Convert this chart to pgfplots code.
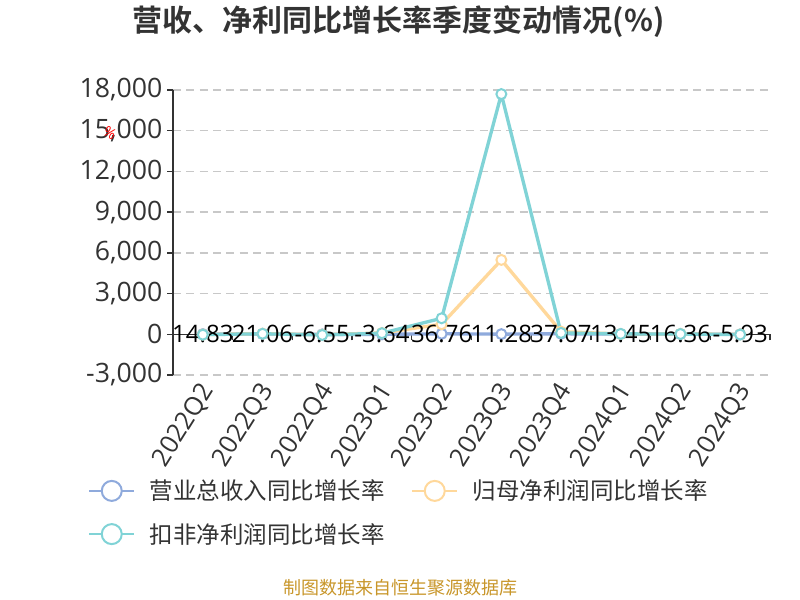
\documentclass[border=0pt]{standalone}
\usepackage{pgfplots}
\pgfplotsset{compat=1.18}
\usepackage{fontspec}
\setmainfont{Open Sans}
\newfontfamily\cjk{Noto Sans CJK SC}[BoldFont={Noto Sans CJK SC Bold}]
\definecolor{cRev}{HTML}{8FAADC}
\definecolor{cNet}{HTML}{FFD89B}
\definecolor{cDed}{HTML}{80D3D6}
\definecolor{cTxt}{HTML}{333333}
\definecolor{cGrid}{HTML}{C8C8C8}
\definecolor{cSrc}{HTML}{C8962A}
\begin{document}
\begin{tikzpicture}
\useasboundingbox (0,0) rectangle (600pt,450pt);
\begin{axis}[
  at={(129.75pt,168.75pt)}, anchor=south west,
  scale only axis, width=447.75pt, height=213.75pt,
  xmin=-0.5, xmax=9.5, ymin=-3000, ymax=18000,
  axis y line=left, axis x line=middle,
  axis line style={-, cTxt, line width=1pt},
  hide obscured x ticks=false, hide obscured y ticks=false,
  ytick={-3000,0,...,18000},
  scaled y ticks=false,
  yticklabel style={font=\fontsize{20}{22}\selectfont, text=cTxt},
  /pgf/number format/.cd, 1000 sep={,}, assume math mode=true, /pgfplots/.cd,
  ymajorgrids, grid style={cGrid, dash pattern=on 6pt off 4pt, line width=1pt},
  tick align=outside, major tick length=4.5pt, tick style={cTxt, line width=1pt},
  xtick={-0.5,0.5,...,9.5}, xticklabels={},
  extra x ticks={0,1,2,3,4,5,6,7,8,9},
  extra x tick labels={2022Q2,2022Q3,2022Q4,2023Q1,2023Q2,2023Q3,2023Q4,2024Q1,2024Q2,2024Q3},
  extra x tick style={major tick length=0pt, tick style={draw=none},
    xticklabel style={yshift=-36pt, xshift=6pt, rotate=58, anchor=east,
      font=\fontsize{19}{21}\selectfont, text=cTxt}},
  legend style={at={(axis description cs:-0.1424,-0.358)}, anchor=north west,
    draw=none, fill=none, inner sep=0pt, row sep=12pt,
    font=\cjk\fontsize{17.6}{20}\selectfont, text=cTxt,
    /tikz/every odd column/.append style={column sep=9pt},
    /tikz/every even column/.append style={column sep=18pt}},
  legend columns=2,
]
\addplot[cRev, line width=2.5pt, mark=*, mark size=3.75pt,
  mark options={fill=white, line width=1.5pt},
  nodes near coords={\pgfmathprintnumber[fixed, fixed zerofill, precision=2]{\pgfplotspointmeta}},
  point meta=y,
  every node near coord/.append style={anchor=center, text=black, font=\fontsize{18}{20}\selectfont},
  legend image code/.code={\draw[cRev, line width=1.5pt] (0pt,0pt) -- (33.75pt,0pt);
    \draw[cRev, line width=1.5pt, fill=white] (16.875pt,0pt) circle (7.5pt);}]
  coordinates {(0,14.83) (1,21.06) (2,-6.55) (3,-3.64) (4,36.76) (5,11.28) (6,37.07) (7,13.45) (8,16.36) (9,-5.93)};
\addlegendentry{营业总收入同比增长率}
\addplot[cNet, line width=2.5pt, mark=*, mark size=3.75pt,
  mark options={fill=white, line width=1.5pt},
  legend image code/.code={\draw[cNet, line width=1.5pt] (0pt,0pt) -- (33.75pt,0pt);
    \draw[cNet, line width=1.5pt, fill=white] (16.875pt,0pt) circle (7.5pt);}]
  coordinates {(0,-20) (1,50) (2,-30) (3,100) (4,740) (5,5480) (6,200) (7,20) (8,30) (9,-10)};
\addlegendentry{归母净利润同比增长率}
\addplot[cDed, line width=2.5pt, mark=*, mark size=3.75pt,
  mark options={fill=white, line width=1.5pt},
  legend image code/.code={\draw[cDed, line width=1.5pt] (0pt,0pt) -- (33.75pt,0pt);
    \draw[cDed, line width=1.5pt, fill=white] (16.875pt,0pt) circle (7.5pt);}]
  coordinates {(0,-30) (1,40) (2,-50) (3,80) (4,1180) (5,17700) (6,100) (7,30) (8,20) (9,-20)};
\addlegendentry{扣非净利润同比增长率}
\end{axis}
\node[font=\cjk\bfseries\fontsize{22.5}{26}\selectfont, text=cTxt] at (299pt,433.5pt) {营收、净利同比增长率季度变动情况(\%)};
\node[font=\cjk\fontsize{13.5}{16}\selectfont, text=cSrc] at (300pt,9pt) {制图数据来自恒生聚源数据库};
\node[text=red, rotate=-30, font=\fontsize{11}{12}\selectfont, inner sep=0pt] at (82.5pt,350pt) {\%};
\end{tikzpicture}
\end{document}
